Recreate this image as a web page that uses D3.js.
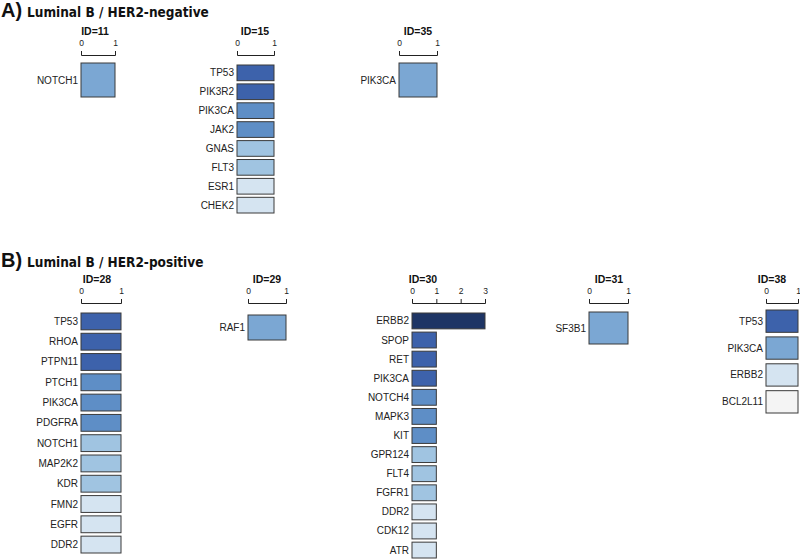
<!DOCTYPE html>
<html><head><meta charset="utf-8">
<script src="https://cdn.jsdelivr.net/npm/d3@7"></script>
<style>body{margin:0;background:#fff}</style>
</head><body><svg id="chart" width="800" height="560"></svg>
<script>
// ---------- DATA ----------
const panelLetters = ["A)", "B)"];
const panelTitles = ["Luminal B / HER2-negative", "Luminal B / HER2-positive"];
const sampleIds = [11, 15, 35, 28, 29, 30, 31, 38];
const samplePanel = [0, 0, 0, 1, 1, 1, 1, 1];

const genes11 = ["NOTCH1"];
const values11 = [1];
const shade11 = [3];

const genes15 = ["TP53", "PIK3R2", "PIK3CA", "JAK2", "GNAS", "FLT3", "ESR1", "CHEK2"];
const values15 = [1, 1, 1, 1, 1, 1, 1, 1];
const shade15 = [5, 5, 4, 4, 2, 2, 1, 1];

const genes35 = ["PIK3CA"];
const values35 = [1];
const shade35 = [3];

const genes28 = ["TP53", "RHOA", "PTPN11", "PTCH1", "PIK3CA", "PDGFRA", "NOTCH1", "MAP2K2", "KDR", "FMN2", "EGFR", "DDR2"];
const values28 = [1, 1, 1, 1, 1, 1, 1, 1, 1, 1, 1, 1];
const shade28 = [5, 5, 5, 4, 4, 4, 2, 2, 2, 1, 1, 1];

const genes29 = ["RAF1"];
const values29 = [1];
const shade29 = [3];

const genes30 = ["ERBB2", "SPOP", "RET", "PIK3CA", "NOTCH4", "MAPK3", "KIT", "GPR124", "FLT4", "FGFR1", "DDR2", "CDK12", "ATR"];
const values30 = [3, 1, 1, 1, 1, 1, 1, 1, 1, 1, 1, 1, 1];
const shade30 = [6, 5, 5, 5, 4, 4, 4, 2, 2, 2, 1, 1, 1];

const genes31 = ["SF3B1"];
const values31 = [1];
const shade31 = [3];

const genes38 = ["TP53", "PIK3CA", "ERBB2", "BCL2L11"];
const values38 = [1, 1, 1, 1];
const shade38 = [5, 3, 1, 0];

const ticks11 = [0, 1], ticks15 = [0, 1], ticks35 = [0, 1], ticks28 = [0, 1],
      ticks29 = [0, 1], ticks30 = [0, 1, 2, 3], ticks31 = [0, 1], ticks38 = [0, 1];

const sampleData = {
  11: {genes: genes11, values: values11, shade: shade11, ticks: ticks11},
  15: {genes: genes15, values: values15, shade: shade15, ticks: ticks15},
  35: {genes: genes35, values: values35, shade: shade35, ticks: ticks35},
  28: {genes: genes28, values: values28, shade: shade28, ticks: ticks28},
  29: {genes: genes29, values: values29, shade: shade29, ticks: ticks29},
  30: {genes: genes30, values: values30, shade: shade30, ticks: ticks30},
  31: {genes: genes31, values: values31, shade: shade31, ticks: ticks31},
  38: {genes: genes38, values: values38, shade: shade38, ticks: ticks38}
};

// ---------- LAYOUT / STYLE ----------
const palette = ["#f4f4f4", "#d5e4f1", "#a0c4e1", "#7ba7d3", "#5e8ec6", "#3d62ab", "#1e3565"];
const layout = {
  11: {x0: 81,  x1: 115, axisY: 55,  top: 63,  bottom: 97,  titleX: 95},
  15: {x0: 237, x1: 274, axisY: 55,  top: 65,  bottom: 213, titleX: 255},
  35: {x0: 399, x1: 437, axisY: 55,  top: 63,  bottom: 97,  titleX: 418},
  28: {x0: 81,  x1: 121, axisY: 303, top: 313, bottom: 553, titleX: 97},
  29: {x0: 248, x1: 286, axisY: 303, top: 315, bottom: 340, titleX: 267},
  30: {x0: 412, x1: 485, axisY: 303, top: 313, bottom: 558, titleX: 423},
  31: {x0: 589, x1: 628, axisY: 303, top: 312, bottom: 344, titleX: 609},
  38: {x0: 766, x1: 798, axisY: 303, top: 310, bottom: 413, titleX: 772}
};
const panelTitleY = [17, 267];
const labelFont = "Arial, Liberation Sans, sans-serif";

const svg = d3.select("#chart");
const shadeColor = d3.scaleOrdinal().domain(d3.range(palette.length)).range(palette);

// panel titles
panelLetters.forEach((L, i) => {
  const t = svg.append("text").attr("x", 1).attr("y", panelTitleY[i])
    .attr("font-family", labelFont).attr("font-weight", "bold")
    .attr("fill", "#111");
  t.append("tspan").attr("font-size", 20).text(L);
  t.append("tspan").attr("x", 27).attr("font-size", 13.5)
    .attr("font-family", "Liberation Sans Narrow, Arial Narrow, DejaVu Sans Condensed, sans-serif")
    .text(panelTitles[i]);
});

sampleIds.forEach((id, k) => {
  const d = sampleData[id], L = layout[id];
  const maxT = d3.max(d.ticks);
  const x = d3.scaleLinear().domain([0, maxT]).range([L.x0, L.x1]);
  const y = d3.scaleBand().domain(d.genes).range([L.top, L.bottom])
    .paddingInner(d.genes.length > 1 ? 0.17 : 0).paddingOuter(0);
  const g = svg.append("g");

  // axis
  const ax = g.append("g").attr("transform", `translate(0,${L.axisY})`)
    .call(d3.axisTop(x).tickValues(d.ticks).tickFormat(d3.format("d"))
      .tickSize(4).tickSizeOuter(4).tickPadding(5));
  ax.selectAll("path, line").attr("stroke", "#222").attr("stroke-width", 1);
  ax.selectAll("text").attr("font-size", 8.5).attr("font-family", labelFont).attr("fill", "#222");

  // sample title
  g.append("text").attr("x", L.titleX).attr("y", L.axisY - 20)
    .attr("text-anchor", "middle").attr("font-size", 10.5).attr("font-weight", "bold")
    .attr("font-family", "Liberation Sans Narrow, Arial Narrow, " + labelFont).attr("fill", "#111")
    .text("ID=" + id);

  const rows = d.genes.map((gname, i) => ({gene: gname, value: d.values[i], shade: d.shade[i]}));

  g.selectAll("rect.bar").data(rows).join("rect").attr("class", "bar")
    .attr("x", x(0)).attr("y", r => y(r.gene))
    .attr("width", r => x(r.value) - x(0)).attr("height", y.bandwidth())
    .attr("fill", r => shadeColor(r.shade))
    .attr("stroke", "#3a3a3a").attr("stroke-width", 1);

  g.selectAll("text.gene").data(rows).join("text").attr("class", "gene")
    .attr("x", x(0) - 3).attr("y", r => y(r.gene) + y.bandwidth() / 2)
    .attr("dy", "0.35em").attr("text-anchor", "end")
    .attr("font-size", 10).attr("font-family", labelFont).attr("fill", "#222")
    .text(r => r.gene);
});
</script>
</body></html>
